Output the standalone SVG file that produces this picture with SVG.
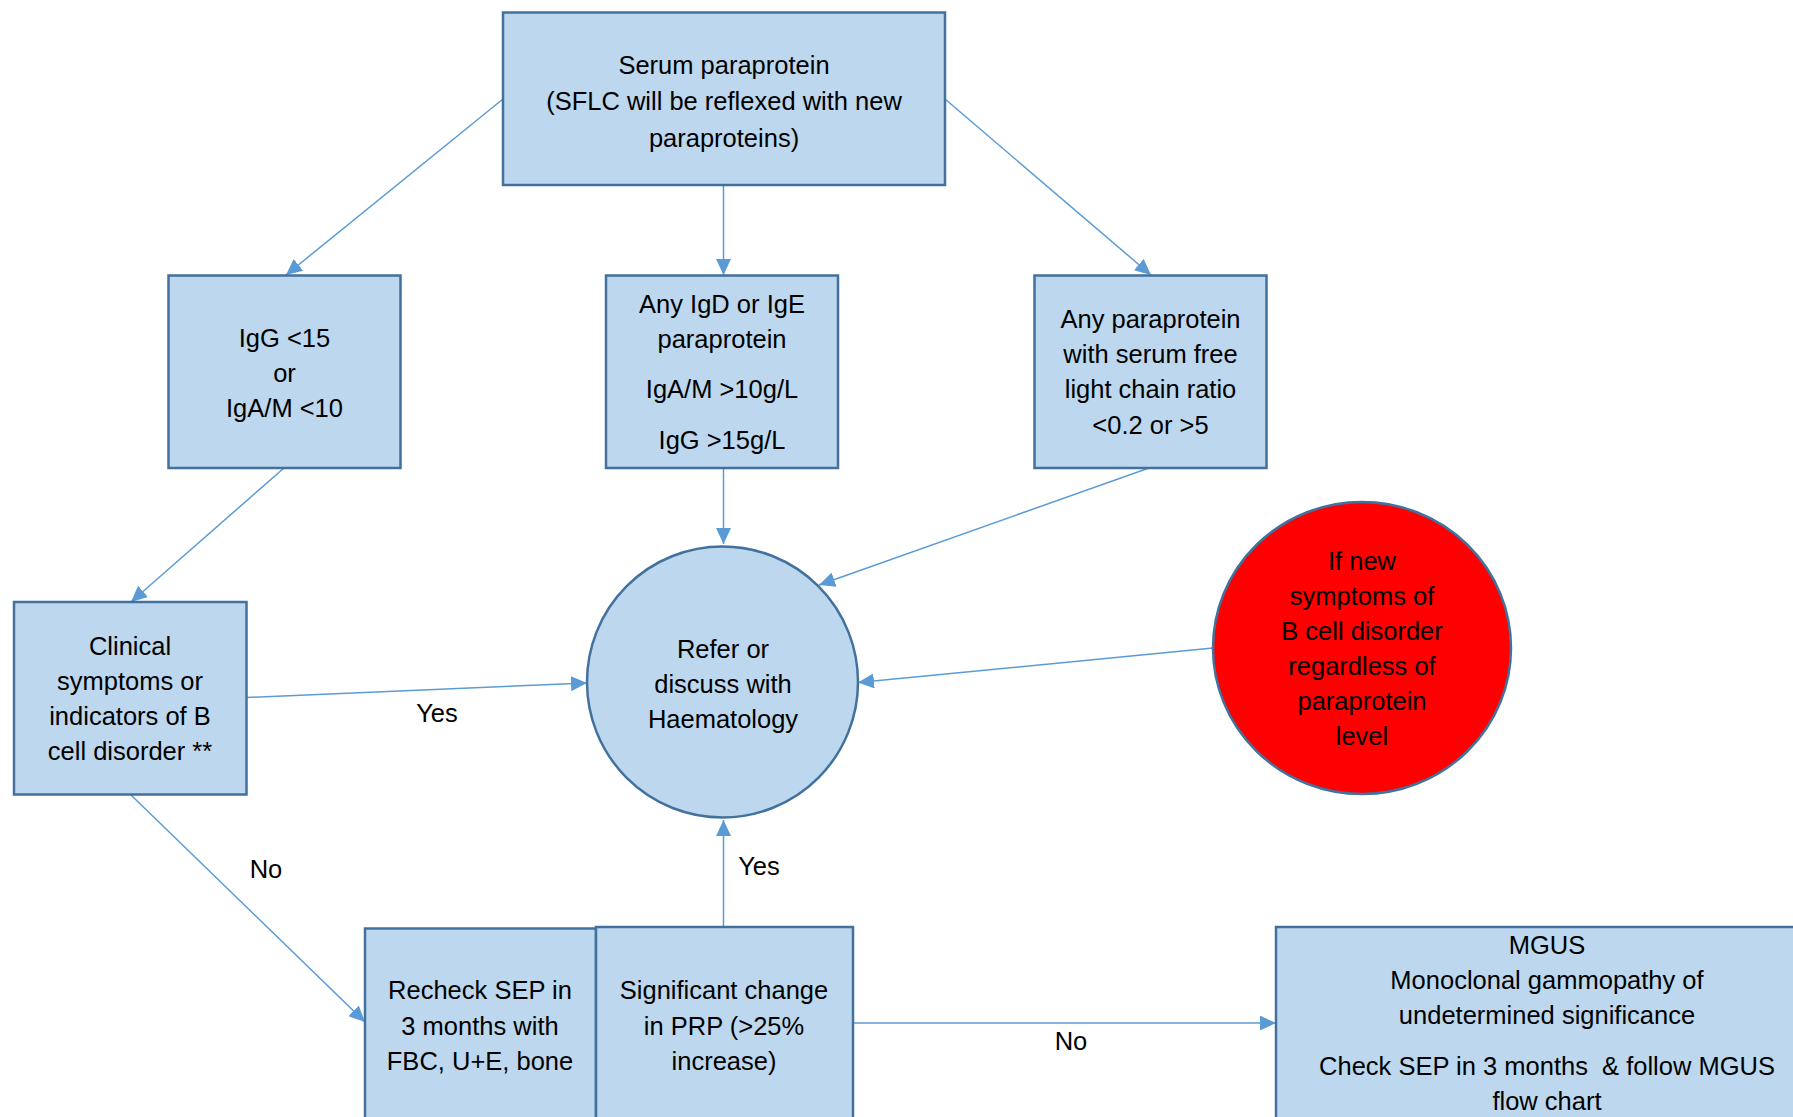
<svg xmlns="http://www.w3.org/2000/svg" width="1793" height="1117" viewBox="0 0 1793 1117">
<defs>
<marker id="arr" markerUnits="userSpaceOnUse" markerWidth="17" markerHeight="15" refX="16" refY="7.5" orient="auto">
<path d="M0,0 L16,7.5 L0,15 z" fill="#5B9BD5"/>
</marker>
<style>
.box{fill:#BDD7EE;stroke:#41719C;stroke-width:2.5}
.red{fill:#FF0000;stroke:#41719C;stroke-width:2.5}
.con{stroke:#5B9BD5;stroke-width:1.5;fill:none;marker-end:url(#arr)}
text{font-family:"Liberation Sans",Arial,sans-serif;font-size:25.5px;fill:#000;text-anchor:middle}
</style>
</defs>
<rect width="1793" height="1117" fill="#fff"/>
<g id="connectors">
<line class="con" x1="503" y1="99" x2="286" y2="275"/>
<line class="con" x1="723.5" y1="185" x2="723.5" y2="275"/>
<line class="con" x1="945" y1="99" x2="1151" y2="275"/>
<line class="con" x1="284" y1="468" x2="131" y2="602"/>
<line class="con" x1="723.5" y1="468" x2="723.5" y2="544"/>
<line class="con" x1="1149" y1="468" x2="819" y2="585"/>
<line class="con" x1="247" y1="697.5" x2="587" y2="683"/>
<line class="con" x1="1213" y1="648" x2="858" y2="682.5"/>
<line class="con" x1="131" y1="795" x2="365" y2="1022"/>
<line class="con" x1="723.5" y1="927" x2="723.5" y2="820"/>
<line class="con" x1="853" y1="1023" x2="1276" y2="1023"/>
<text x="437" y="721.5">Yes</text>
<text x="266" y="878">No</text>
<text x="759" y="875">Yes</text>
<text x="1071" y="1050">No</text>
</g>
<g id="serum">
<rect class="box" x="503" y="12.5" width="442" height="172.5"/>
<text x="724" y="74">Serum paraprotein</text>
<text x="724" y="110">(SFLC will be reflexed with new</text>
<text x="724" y="147">paraproteins)</text>
</g>
<g id="igg-low">
<rect class="box" x="168.5" y="275.5" width="232" height="192.5"/>
<text x="284.5" y="347">IgG &lt;15</text>
<text x="284.5" y="382">or</text>
<text x="284.5" y="417">IgA/M &lt;10</text>
</g>
<g id="igd-ige">
<rect class="box" x="606" y="275.5" width="232" height="192.5"/>
<text x="722" y="313">Any IgD or IgE</text>
<text x="722" y="348">paraprotein</text>
<text x="722" y="398">IgA/M &gt;10g/L</text>
<text x="722" y="449">IgG &gt;15g/L</text>
</g>
<g id="sflc">
<rect class="box" x="1034.5" y="275.5" width="232" height="192.5"/>
<text x="1150.5" y="328">Any paraprotein</text>
<text x="1150.5" y="363">with serum free</text>
<text x="1150.5" y="398">light chain ratio</text>
<text x="1150.5" y="434">&lt;0.2 or &gt;5</text>
</g>
<g id="clinical">
<rect class="box" x="14" y="602" width="232.5" height="192.5"/>
<text x="130" y="655">Clinical</text>
<text x="130" y="690">symptoms or</text>
<text x="130" y="725">indicators of B</text>
<text x="130" y="760">cell disorder **</text>
</g>
<g id="refer">
<circle class="box" cx="722.5" cy="682" r="135.5"/>
<text x="723" y="657.5">Refer or</text>
<text x="723" y="692.5">discuss with</text>
<text x="723" y="727.5">Haematology</text>
</g>
<g id="new-symptoms">
<ellipse class="red" cx="1362" cy="648" rx="149" ry="146"/>
<text x="1362" y="570">If new</text>
<text x="1362" y="605">symptoms of</text>
<text x="1362" y="640">B cell disorder</text>
<text x="1362" y="675">regardless of</text>
<text x="1362" y="710">paraprotein</text>
<text x="1362" y="745">level</text>
</g>
<g id="recheck">
<rect class="box" x="365" y="928.5" width="231" height="210"/>
<text x="480" y="999">Recheck SEP in</text>
<text x="480" y="1035">3 months with</text>
<text x="480" y="1070">FBC, U+E, bone</text>
</g>
<g id="significant">
<rect class="box" x="596" y="927" width="257" height="210"/>
<text x="724" y="999">Significant change</text>
<text x="724" y="1035">in PRP (&gt;25%</text>
<text x="724" y="1070">increase)</text>
</g>
<g id="mgus">
<rect class="box" x="1276" y="927" width="540" height="210"/>
<text x="1547" y="954">MGUS</text>
<text x="1547" y="989">Monoclonal gammopathy of</text>
<text x="1547" y="1024">undetermined significance</text>
<text x="1547" y="1075" style="white-space:pre">Check SEP in 3 months  &amp; follow MGUS</text>
<text x="1547" y="1110">flow chart</text>
</g>
</svg>
